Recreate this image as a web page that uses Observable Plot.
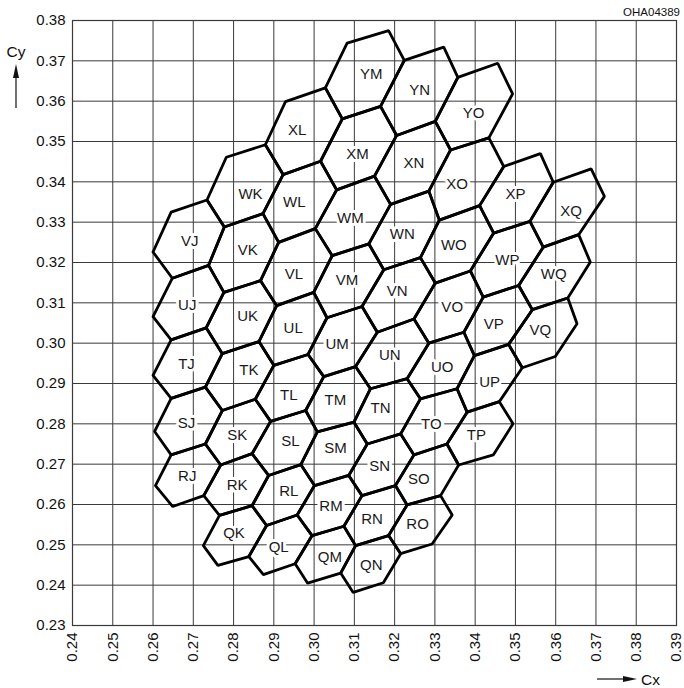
<!DOCTYPE html>
<html>
<head>
<meta charset="utf-8">
<script src="https://cdn.jsdelivr.net/npm/d3@7"></script>
<script src="https://cdn.jsdelivr.net/npm/@observablehq/plot@0.6"></script>
<style>
  html, body { margin: 0; padding: 0; background: white; }
  #chart { width: 684px; height: 688px; }
</style>
</head>
<body>
<div id="chart"></div>
<script>
// Tick values
const xTicks = [0.24, 0.25, 0.26, 0.27, 0.28, 0.29, 0.30, 0.31, 0.32, 0.33, 0.34, 0.35, 0.36, 0.37, 0.38, 0.39];
const yTicks = [0.23, 0.24, 0.25, 0.26, 0.27, 0.28, 0.29, 0.30, 0.31, 0.32, 0.33, 0.34, 0.35, 0.36, 0.37, 0.38];

// Lattice of bin corners (Cx, Cy). Rows and columns of the bin naming scheme.
const rowNames = ["P", "Q", "R", "S", "T", "U", "V", "W", "X", "Y"];
const colNames = ["I", "J", "K", "L", "M", "N", "O", "P", "Q", "R"];

// Upper-left corner of bin (row, col), per column I..R
const ulP = [null, null, [0.2761, 0.2449], [0.2874, 0.2426], [0.2984, 0.2405], [0.3097, 0.2382], null, null, null, null];
const ulQ = [null, [0.2649, 0.2595], [0.2765, 0.2573], [0.2882, 0.2548], [0.2995, 0.2523], [0.3103, 0.2498], [0.3215, 0.2478], null, null, null];
const ulR = [null, [0.2645, 0.2723], [0.2768, 0.2698], [0.2887, 0.2672], [0.3001, 0.2647], [0.3119, 0.2622], [0.3231, 0.2599], [0.3343, 0.2574], null, null];
const ulS = [null, [0.2645, 0.2863], [0.2772, 0.2833], [0.2892, 0.2806], [0.3008, 0.2780], [0.3132, 0.2750], [0.3248, 0.2723], [0.3359, 0.2698], null, null];
const ulT = [null, [0.2645, 0.3008], [0.2772, 0.2974], [0.2900, 0.2945], [0.3024, 0.2917], [0.3140, 0.2887], [0.3264, 0.2862], [0.3380, 0.2829], [0.3494, 0.2800], null];
const ulU = [null, [0.2648, 0.3161], [0.2776, 0.3126], [0.2907, 0.3093], [0.3032, 0.3063], [0.3157, 0.3027], [0.3285, 0.3000], [0.3398, 0.2969], [0.3517, 0.2939], null];
const ulV = [null, [0.2645, 0.3325], [0.2777, 0.3288], [0.2912, 0.3250], [0.3045, 0.3217], [0.3173, 0.3182], [0.3301, 0.3149], [0.3420, 0.3114], [0.3542, 0.3083], [0.3653, 0.3048]];
const ulW = [null, null, [0.2782, 0.3461], [0.2923, 0.3418], [0.3056, 0.3380], [0.3190, 0.3344], [0.3311, 0.3305], [0.3446, 0.3273], [0.3569, 0.3238], [0.3686, 0.3201]];
const ulX = [null, null, null, [0.2929, 0.3599], [0.3070, 0.3556], [0.3205, 0.3515], [0.3339, 0.3479], [0.3471, 0.3438], [0.3594, 0.3399], [0.3721, 0.3364]];
const ulY = [null, null, null, null, [0.3082, 0.3744], [0.3224, 0.3701], [0.3357, 0.3659], [0.3493, 0.3618], null, null];

// Upper-right corner of bin (row, col), per column I..R
const urP = [null, [0.2725, 0.2498], [0.2838, 0.2471], [0.2953, 0.2453], [0.3066, 0.2430], [0.3172, 0.2406], null, null, null, null];
const urQ = [[0.2606, 0.2647], [0.2726, 0.2622], [0.2846, 0.2597], [0.2958, 0.2574], [0.3074, 0.2546], [0.3185, 0.2523], [0.3293, 0.2502], null, null, null];
const urR = [[0.2604, 0.2781], [0.2730, 0.2750], [0.2846, 0.2726], [0.2967, 0.2699], [0.3086, 0.2672], [0.3202, 0.2647], [0.3314, 0.2622], null, null, null];
const urS = [[0.2600, 0.2920], [0.2730, 0.2891], [0.2854, 0.2861], [0.2979, 0.2833], [0.3099, 0.2804], [0.3215, 0.2775], [0.3330, 0.2750], [0.3445, 0.2723], null, null];
const urT = [[0.2600, 0.3066], [0.2732, 0.3038], [0.2863, 0.3004], [0.2985, 0.2972], [0.3103, 0.2942], [0.3231, 0.2912], [0.3355, 0.2887], [0.3460, 0.2855], null, null];
const urU = [[0.2600, 0.3226], [0.2738, 0.3193], [0.2867, 0.3155], [0.2999, 0.3126], [0.3119, 0.3091], [0.3248, 0.3060], [0.3372, 0.3027], [0.3483, 0.2997], [0.3599, 0.2967], null];
const urV = [null, [0.2734, 0.3355], [0.2873, 0.3321], [0.3003, 0.3284], [0.3136, 0.3246], [0.3264, 0.3212], [0.3388, 0.3179], [0.3508, 0.3143], [0.3630, 0.3112], null];
const urW = [null, null, [0.2879, 0.3492], [0.3016, 0.3451], [0.3150, 0.3414], [0.3285, 0.3377], [0.3411, 0.3341], [0.3536, 0.3302], [0.3657, 0.3269], null];
const urX = [null, null, null, [0.3028, 0.3633], [0.3165, 0.3587], [0.3301, 0.3550], [0.3434, 0.3509], [0.3562, 0.3470], [0.3688, 0.3432], null];
const urY = [null, null, null, null, [0.3185, 0.3775], [0.3322, 0.3734], [0.3456, 0.3694], null, null, null];

// Bins present per row
const binRows = ["Q", "R", "S", "T", "U", "V", "W", "X", "Y"];
const binCols = ["KLMN", "JKLMNO", "JKLMNO", "JKLMNOP", "JKLMNOP", "JKLMNOPQ", "KLMNOPQ", "LMNOPQ", "MNO"];

// Label anchors (Cx, Cy) per row, in order of binCols
const labQ = [[0.2801, 0.2530], [0.2912, 0.2494], [0.3039, 0.2469], [0.3142, 0.2449]];
const labR = [[0.2685, 0.2670], [0.2809, 0.2647], [0.2937, 0.2632], [0.3042, 0.2597], [0.3144, 0.2564], [0.3257, 0.2552]];
const labS = [[0.2683, 0.2802], [0.2809, 0.2771], [0.2941, 0.2756], [0.3053, 0.2740], [0.3163, 0.2695], [0.3260, 0.2662]];
const labT = [[0.2683, 0.2947], [0.2838, 0.2932], [0.2937, 0.2870], [0.3053, 0.2858], [0.3165, 0.2838], [0.3291, 0.2798], [0.3403, 0.2771]];
const labU = [[0.2685, 0.3093], [0.2835, 0.3066], [0.2948, 0.3036], [0.3057, 0.2998], [0.3188, 0.2969], [0.3318, 0.2940], [0.3436, 0.2903]];
const labV = [[0.2691, 0.3254], [0.2835, 0.3230], [0.2950, 0.3172], [0.3082, 0.3155], [0.3206, 0.3129], [0.3343, 0.3089], [0.3446, 0.3048], [0.3562, 0.3033]];
const labW = [[0.2842, 0.3370], [0.2951, 0.3349], [0.3090, 0.3310], [0.3219, 0.3269], [0.3347, 0.3242], [0.3480, 0.3205], [0.3595, 0.3170]];
const labX = [[0.2958, 0.3529], [0.3108, 0.3469], [0.3248, 0.3445], [0.3355, 0.3395], [0.3500, 0.3370], [0.3638, 0.3327]];
const labY = [[0.3142, 0.3668], [0.3262, 0.3628], [0.3396, 0.3571]];

// ---- build tables ----
const UL = [ulP, ulQ, ulR, ulS, ulT, ulU, ulV, ulW, ulX, ulY];
const UR = [urP, urQ, urR, urS, urT, urU, urV, urW, urX, urY];
const LABS = [labQ, labR, labS, labT, labU, labV, labW, labX, labY];

const hexPts = [];
const labels = [];
binRows.forEach((rn, k) => {
  const r = rowNames.indexOf(rn);
  binCols[k].split("").forEach((cn, j) => {
    const c = colNames.indexOf(cn);
    const bin = rn + cn;
    const ring = [UR[r - 1][c - 1], UL[r][c], UR[r][c], UL[r][c + 1], UR[r - 1][c], UL[r - 1][c], UR[r - 1][c - 1]];
    ring.forEach((p, i) => hexPts.push({bin, i, x: p[0], y: p[1]}));
    const lp = LABS[k][j];
    labels.push({bin, x: lp[0], y: lp[1]});
  });
});

const gridColor = "#3a3a3a";
const fmt = d => d.toFixed(2);

const chart = Plot.plot({
  width: 684,
  height: 688,
  marginLeft: 72,
  marginRight: 8,
  marginTop: 20,
  marginBottom: 63,
  x: {domain: [0.24, 0.39], label: null},
  y: {domain: [0.23, 0.38], label: null},
  style: {fontFamily: "'Liberation Sans', Arial, sans-serif", fontSize: "15px", background: "white", color: "#111"},
  marks: [
    Plot.gridX(xTicks, {stroke: gridColor, strokeOpacity: 1, strokeWidth: 1}),
    Plot.gridY(yTicks, {stroke: gridColor, strokeOpacity: 1, strokeWidth: 1}),
    Plot.frame({stroke: gridColor, strokeWidth: 1.2}),
    Plot.axisY(yTicks, {tickSize: 0, tickPadding: 7, tickFormat: fmt, fontSize: 15, label: null}),
    Plot.axisX(xTicks, {tickSize: 0, tickPadding: 7, tickRotate: -90, tickFormat: fmt, fontSize: 15, label: null}),
    Plot.text(labels, {x: "x", y: "y", text: "bin", fill: "#1a1a1a", stroke: "white", strokeWidth: 6, fontSize: 15, textAnchor: "middle", lineAnchor: "middle"}),
    Plot.line(hexPts, {x: "x", y: "y", z: "bin", stroke: "black", strokeWidth: 2.8, strokeLinejoin: "miter"})
  ]
});

document.getElementById("chart").appendChild(chart);

// annotations in the margins
const svg = d3.select(chart);
svg.append("text").attr("x", 680).attr("y", 16).attr("text-anchor", "end")
  .attr("font-size", 11.5).attr("fill", "#111").text("OHA04389");
svg.append("text").attr("x", 16).attr("y", 57).attr("text-anchor", "middle")
  .attr("font-size", 15.5).attr("fill", "#111").text("Cy");
svg.append("line").attr("x1", 16).attr("x2", 16).attr("y1", 108).attr("y2", 76)
  .attr("stroke", "#111").attr("stroke-width", 1.2);
svg.append("path").attr("d", "M16,64L13,78L19,78Z").attr("fill", "#111");
svg.append("line").attr("x1", 597).attr("x2", 626).attr("y1", 679).attr("y2", 679)
  .attr("stroke", "#111").attr("stroke-width", 1.2);
svg.append("path").attr("d", "M637,679L623,676L623,682Z").attr("fill", "#111");
svg.append("text").attr("x", 641).attr("y", 685).attr("text-anchor", "start")
  .attr("font-size", 15.5).attr("fill", "#111").text("Cx");
</script>
</body>
</html>
